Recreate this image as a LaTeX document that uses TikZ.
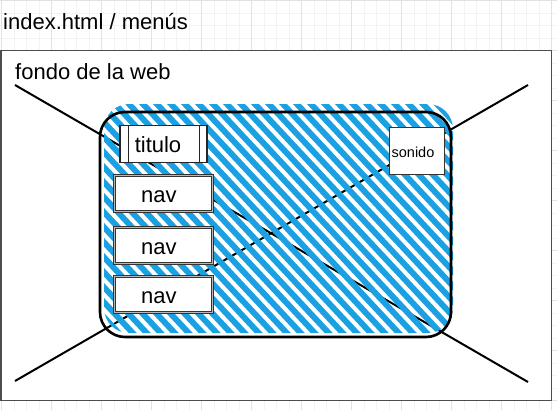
\documentclass[tikz,border=0pt]{standalone}
\usepackage{fontspec}
\setmainfont{Liberation Sans}
\definecolor{hatchblue}{HTML}{1BA1E2}
\definecolor{gridminor}{HTML}{F3F3F3}
\definecolor{gridmajor}{HTML}{E2E2E2}
\definecolor{boxgray}{HTML}{4D4D4D}
\begin{document}
\begin{tikzpicture}[x=1pt,y=-1pt,
  minorline/.style={draw=gridminor,line width=0.8pt},
  majorline/.style={draw=gridmajor,line width=0.8pt},
  bigtext/.style={font=\fontsize{22}{26}\selectfont,inner sep=0pt},
  pagebox/.style={draw=boxgray,fill=white,line width=1.4pt,inner sep=0pt},
  crossline/.style={draw=black,line width=2pt},
  hatchline/.style={draw=hatchblue,line width=5.9pt},
  panelbox/.style={draw=black,line width=2.6pt,rounded corners=25pt,inner sep=0pt},
  procbox/.style={draw=black!85,fill=white,line width=1.1pt,inner sep=0pt,
     font=\fontsize{22}{26}\selectfont,text height=17pt,text depth=0pt},
  navbox/.style={draw=black!80,double=gray!55,double distance=1.4pt,line width=0.8pt,
     fill=white,inner sep=0pt,font=\fontsize{22}{26}\selectfont,text height=17pt,text depth=0pt},
  soundbox/.style={draw=black!80,fill=white,line width=1.1pt,inner sep=0pt,
     font=\fontsize{14.5}{17}\selectfont,text height=13pt,text depth=0pt}
]
\useasboundingbox (0,0) rectangle (557,410);
% grid
\foreach \i in {0,...,44} \draw[minorline] ({1.7+12.5*\i},0) -- ({1.7+12.5*\i},410);
\foreach \j in {0,...,32} \draw[minorline] (0,{0.5+12.5*\j}) -- (557,{0.5+12.5*\j});
\foreach \i in {0,...,11} \draw[majorline] ({1.7+50*\i},0) -- ({1.7+50*\i},410);
\foreach \j in {0,...,8} \draw[majorline] (0,{0.5+50*\j}) -- (557,{0.5+50*\j});
% title
\node[bigtext,anchor=base west] (title) at (3,29.5) {index.html / menús};
% page box
\node[pagebox,minimum width=550.5pt,minimum height=350pt] (page) at (276.25,225.5) {};
\node[bigtext,anchor=base west] (fondo) at (15,79) {fondo de la web};
% cross lines
\coordinate (xa) at (15,85);
\coordinate (xb) at (528,382);
\coordinate (xc) at (15,381);
\coordinate (xd) at (528,85);
\draw[crossline] (xa) -- (xb);
\draw[crossline] (xc) -- (xd);
% hatch
\begin{scope}
  \clip[rounded corners=25pt] (104,104) rectangle (453,333);
  \foreach \k in {-18,...,34} \draw[hatchline] ({3.9+14*\k},90) -- ++(280,300);
\end{scope}
% panel border
\node[panelbox,minimum width=351pt,minimum height=225pt] (panel) at (275.5,224.5) {};
% titulo
\node[procbox,minimum width=87pt,minimum height=37pt] (titulo) at (163.5,144.2) {\hspace*{-11pt}titulo};
\draw[black!85,line width=1.1pt] ([xshift=9pt]titulo.north west) -- ([xshift=9pt]titulo.south west);
\draw[black!85,line width=1.1pt] ([xshift=-8pt]titulo.north east) -- ([xshift=-8pt]titulo.south east);
% nav boxes
\node[navbox,minimum width=98pt,minimum height=36pt] (nav1) at (163.5,193.5) {\hspace*{-9.4pt}nav};
\node[navbox,minimum width=98pt,minimum height=36pt] (nav2) at (163.5,245.5) {\hspace*{-9.4pt}nav};
\node[navbox,minimum width=98pt,minimum height=36pt] (nav3) at (163.5,294.5) {\hspace*{-9.4pt}nav};
% sonido
\node[soundbox,minimum width=55.3pt,minimum height=46.7pt] (sonido) at (416.7,150.7) {\hspace*{-7.4pt}sonido};
\end{tikzpicture}
\end{document}
